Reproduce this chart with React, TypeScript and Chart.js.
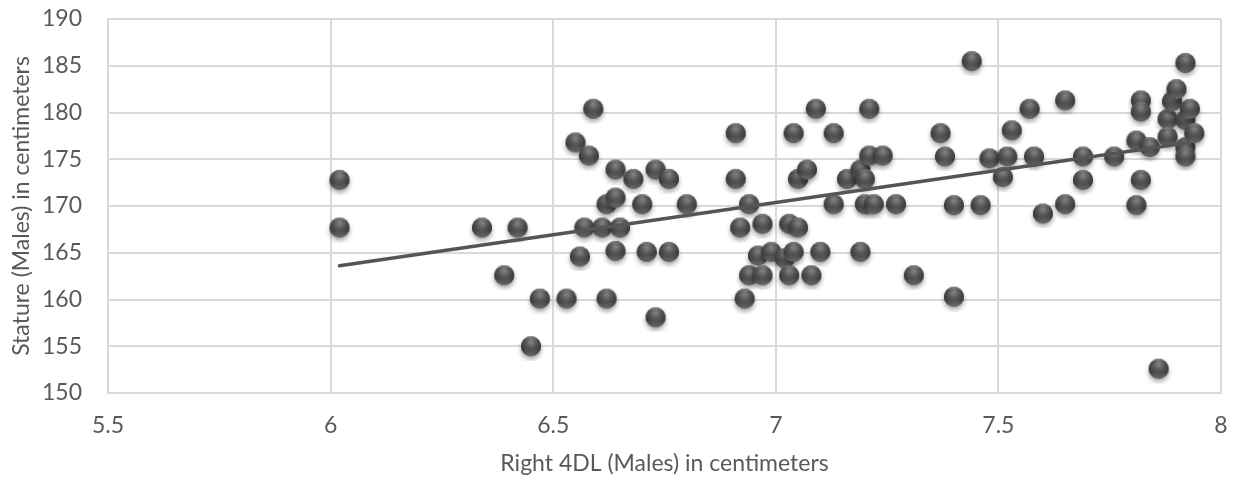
import React, { useEffect, useRef } from "react";
import { Chart, registerables } from "chart.js";

Chart.register(...registerables);

const X_TITLE = "Right 4DL (Males) in centimeters";
const Y_TITLE = "Stature (Males) in centimeters";

const xValues = [
  6.02, 6.02, 6.34, 6.39, 6.42, 6.45, 6.47, 6.53, 6.55, 6.56,
  6.57, 6.58, 6.59, 6.61, 6.62, 6.62, 6.64, 6.64, 6.64, 6.65,
  6.68, 6.70, 6.71, 6.73, 6.73, 6.76, 6.76, 6.80, 6.91, 6.91,
  6.92, 6.93, 6.94, 6.94, 6.96, 6.97, 6.97, 6.99, 7.02, 7.03,
  7.03, 7.04, 7.04, 7.05, 7.05, 7.07, 7.08, 7.09, 7.10, 7.13,
  7.13, 7.16, 7.19, 7.19, 7.20, 7.20, 7.21, 7.21, 7.22, 7.24,
  7.27, 7.31, 7.37, 7.38, 7.40, 7.40, 7.44, 7.46, 7.48, 7.51,
  7.52, 7.53, 7.57, 7.58, 7.60, 7.65, 7.65, 7.69, 7.69, 7.76,
  7.81, 7.81, 7.82, 7.82, 7.82, 7.84, 7.86, 7.88, 7.88, 7.89,
  7.90, 7.92, 7.92, 7.92, 7.92, 7.93, 7.94,
];

const yValues = [
  172.8, 167.7, 167.7, 162.6, 167.7, 155.0, 160.1, 160.1, 176.8, 164.6,
  167.7, 175.4, 180.4, 167.7, 160.1, 170.2, 170.9, 173.9, 165.2, 167.7,
  172.9, 170.2, 165.1, 173.9, 158.1, 172.9, 165.1, 170.2, 177.8, 172.9,
  167.7, 160.1, 170.2, 162.6, 164.7, 168.1, 162.6, 165.1, 164.4, 168.1,
  162.6, 177.8, 165.1, 172.9, 167.7, 173.9, 162.6, 180.4, 165.1, 177.8,
  170.2, 172.9, 173.9, 165.1, 172.9, 170.2, 180.4, 175.4, 170.2, 175.4,
  170.2, 162.6, 177.8, 175.3, 170.1, 160.3, 185.5, 170.1, 175.1, 173.1,
  175.3, 178.1, 180.4, 175.3, 169.2, 181.3, 170.2, 175.3, 172.8, 175.3,
  177.0, 170.1, 181.3, 180.1, 172.8, 176.3, 152.6, 179.3, 177.4, 181.2,
  182.5, 185.3, 179.2, 176.3, 175.3, 180.4, 177.8,
];

const trendX = [6.02, 7.93];
const trendY = [163.6, 176.8];

const X_MIN = 5.5;
const X_MAX = 8;
const X_STEP = 0.5;
const Y_MIN = 150;
const Y_MAX = 190;
const Y_STEP = 5;

const FONT_FAMILY = "Lato, 'Open Sans', sans-serif";
const TEXT_COLOR = "#595959";
const GRID_COLOR = "#d9d9d9";

function makeSphere(): HTMLCanvasElement {
  const size = 30;
  const r = 10;
  const c = document.createElement("canvas");
  c.width = size;
  c.height = size;
  const ctx = c.getContext("2d")!;
  const cx = size / 2;
  const cy = size / 2;
  ctx.save();
  ctx.shadowColor = "rgba(0,0,0,0.38)";
  ctx.shadowBlur = 5;
  ctx.shadowOffsetY = 3;
  ctx.beginPath();
  ctx.arc(cx, cy, r, 0, Math.PI * 2);
  ctx.fillStyle = "#474747";
  ctx.fill();
  ctx.restore();
  const g = ctx.createRadialGradient(cx, cy - r * 0.45, r * 0.1, cx, cy, r * 1.05);
  g.addColorStop(0, "#777777");
  g.addColorStop(0.45, "#525252");
  g.addColorStop(0.8, "#3f3f3f");
  g.addColorStop(1, "#363636");
  ctx.beginPath();
  ctx.arc(cx, cy, r, 0, Math.PI * 2);
  ctx.fillStyle = g;
  ctx.fill();
  const h = ctx.createLinearGradient(0, cy - r, 0, cy);
  h.addColorStop(0, "rgba(255,255,255,0.38)");
  h.addColorStop(0.35, "rgba(255,255,255,0.08)");
  h.addColorStop(1, "rgba(255,255,255,0)");
  ctx.beginPath();
  ctx.arc(cx, cy, r, 0, Math.PI * 2);
  ctx.fillStyle = h;
  ctx.fill();
  const b = ctx.createLinearGradient(0, cy + r, 0, cy + r * 0.3);
  b.addColorStop(0, "rgba(200,200,200,0.35)");
  b.addColorStop(1, "rgba(200,200,200,0)");
  ctx.beginPath();
  ctx.arc(cx, cy, r, 0, Math.PI * 2);
  ctx.fillStyle = b;
  ctx.fill();
  return c;
}

export default function App() {
  const ref = useRef<HTMLCanvasElement | null>(null);

  useEffect(() => {
    if (!ref.current) return;
    const sphere = makeSphere();
    const points = xValues.map((x, i) => ({ x, y: yValues[i] }));
    const trend = trendX.map((x, i) => ({ x, y: trendY[i] }));

    const chart = new Chart(ref.current, {
      type: "scatter",
      data: {
        datasets: [
          {
            type: "line",
            label: "Trend",
            data: trend,
            borderColor: "#555555",
            borderWidth: 3.5,
            borderCapStyle: "round",
            pointRadius: 0,
            showLine: true,
            fill: false,
            order: 0,
          },
          {
            label: "Males",
            data: points,
            pointStyle: sphere,
            pointRadius: 10,
            order: 1,
          },
        ],
      },
      options: {
        animation: false,
        responsive: true,
        maintainAspectRatio: false,
        layout: { padding: { top: 19, right: 19, left: 0, bottom: 0 } },
        plugins: {
          legend: { display: false },
          tooltip: { enabled: false },
        },
        scales: {
          x: {
            type: "linear",
            min: X_MIN,
            max: X_MAX,
            afterFit: (s: any) => {
              s.height = 92;
              s.paddingLeft = 0;
              s.paddingRight = 0;
              s.paddingTop = 0;
              s.paddingBottom = 0;
            },
            ticks: {
              stepSize: X_STEP,
              padding: 19,
              color: TEXT_COLOR,
              font: { family: FONT_FAMILY, size: 23 },
              maxRotation: 0,
              autoSkip: false,
              callback: (v: any) => String(Number(v)),
            },
            grid: { color: GRID_COLOR, lineWidth: 2, drawTicks: false },
            border: { color: GRID_COLOR, width: 2 },
            title: {
              display: true,
              text: X_TITLE,
              color: TEXT_COLOR,
              font: { family: FONT_FAMILY, size: 23 },
              padding: { top: 0, bottom: 8 },
            },
          },
          y: {
            type: "linear",
            min: Y_MIN,
            max: Y_MAX,
            afterFit: (s: any) => {
              s.width = 108;
              s.paddingLeft = 0;
              s.paddingRight = 0;
              s.paddingTop = 0;
              s.paddingBottom = 0;
            },
            ticks: {
              stepSize: Y_STEP,
              padding: 26,
              color: TEXT_COLOR,
              font: { family: FONT_FAMILY, size: 23 },
              autoSkip: false,
              callback: (v: any) => String(Number(v)),
            },
            grid: { color: GRID_COLOR, lineWidth: 2, drawTicks: false },
            border: { color: GRID_COLOR, width: 2 },
            title: {
              display: true,
              text: Y_TITLE,
              color: TEXT_COLOR,
              font: { family: FONT_FAMILY, size: 23 },
              padding: { top: 8, bottom: 0 },
            },
          },
        },
      },
      plugins: [
        {
          id: "rightBorder",
          afterDraw: (c: any) => {
            const { ctx, chartArea } = c;
            ctx.save();
            ctx.strokeStyle = GRID_COLOR;
            ctx.lineWidth = 2;
            ctx.beginPath();
            ctx.moveTo(chartArea.right, chartArea.top);
            ctx.lineTo(chartArea.right, chartArea.bottom);
            ctx.stroke();
            ctx.restore();
          },
        },
      ],
    });
    return () => chart.destroy();
  }, []);

  return (
    <div style={{ position: "fixed", left: 0, top: 0, width: 1240, height: 485, background: "#fff" }}>
      <canvas ref={ref} />
    </div>
  );
}
